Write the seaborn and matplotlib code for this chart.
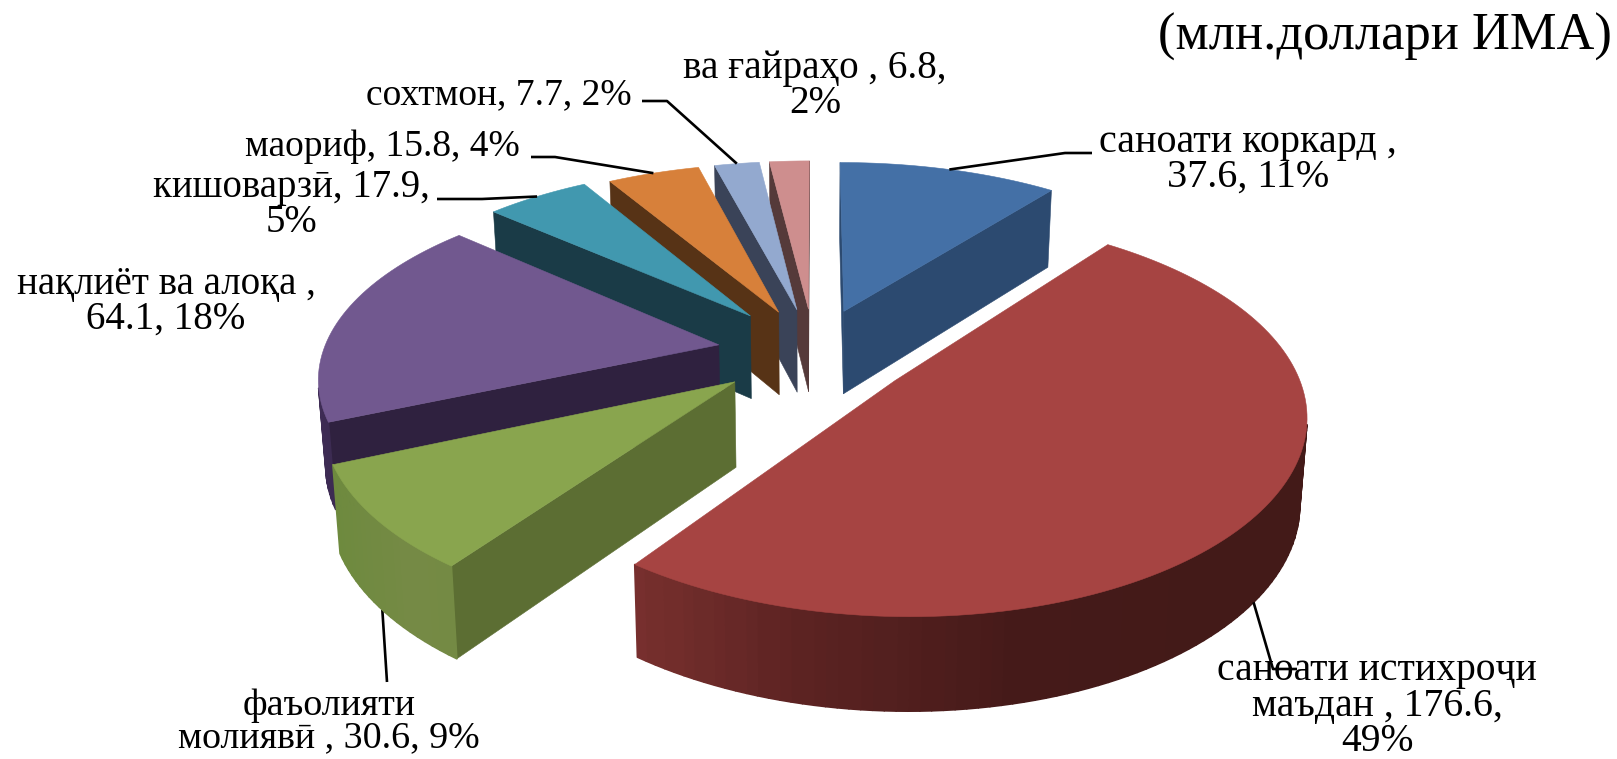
import numpy as np
import matplotlib
matplotlib.use("Agg")
import matplotlib.pyplot as plt
from matplotlib.patches import Polygon
import seaborn as sns

categories = ["саноати коркард", "саноати истихроҷи маъдан", "фаъолияти молиявӣ", "нақлиёт ва алоқа",
              "кишоварзӣ", "маориф", "сохтмон", "ва ғайраҳо"]
values = [37.6, 176.6, 30.6, 64.1, 17.9, 15.8, 7.7, 6.8]
label_texts = ["саноати коркард ,\n37.6, 11%", "саноати истихроҷи\nмаъдан , 176.6,\n49%",
               "фаъолияти\nмолиявӣ , 30.6, 9%", "нақлиёт ва алоқа ,\n64.1, 18%",
               "кишоварзӣ, 17.9,\n5%", "маориф, 15.8, 4%", "сохтмон, 7.7, 2%", "ва ғайраҳо , 6.8,\n2%"]
unit_text = "(млн.доллари ИМА)"

top_colors = ["#4470A6", "#A64442", "#89A54E", "#71588F", "#4198AF", "#D7803A", "#93A9CF", "#CE8E8E"]
wall_colors = ["#2C4A70", "#7F3331", "#5C6E33", "#2F213F", "#1A3B47", "#573316", "#3A4358", "#553A3A"]

sns.set_theme(style="white")
plt.rcParams["font.family"] = ["Liberation Serif", "DejaVu Serif"]

W, H = 1617, 759
fig = plt.figure(figsize=(W / 100, H / 100), dpi=100, facecolor="white")
ax = fig.add_axes([0, 0, 1, 1])
ax.set_xlim(0, W)
ax.set_ylim(H, 0)
ax.axis("off")

# camera / projection of the tilted pie
CX, CY, F, DX, G, D = 814, 352, 2612, 6.6, 1116, 6.0
EXPLODE = [0.24, 0.25, 0.25, 0.245, 0.26, 0.24, 0.24, 0.24]


def project(X, Y, lower=False):
    sx = CX + F * X / (DX + Y)
    sy = CY - G * Y / (D + Y)
    if lower:
        sx = CX + (sx - CX) * 0.985
        sy = sy + 893 / (10.6 + Y)
    return np.column_stack([sx, sy])


vals = np.array(values)
edges = np.concatenate([[0], np.cumsum(vals)]) / vals.sum() * 2 * np.pi
mids = (edges[:-1] + edges[1:]) / 2


def ground(i, ang, r=1.0):
    return (r * np.sin(ang) + EXPLODE[i] * np.sin(mids[i]),
            r * np.cos(ang) + EXPLODE[i] * np.cos(mids[i]))


def signed_area(p):
    x, y = p[:, 0], p[:, 1]
    return 0.5 * np.sum(x * np.roll(y, -1) - np.roll(x, -1) * y)


def face(a, b, color, z, lw=0.4):
    """a, b: ground points of one top edge, wall hangs below; back-facing walls culled."""
    t = project(np.array([a[0], b[0]]), np.array([a[1], b[1]]))
    l = project(np.array([a[0], b[0]]), np.array([a[1], b[1]]), lower=True)
    poly = np.vstack([t, l[::-1]])
    if signed_area(poly) > 0:
        return
    ax.add_patch(Polygon(poly, closed=True, facecolor=color, edgecolor=color, lw=lw,
                         joinstyle="round", zorder=z))


order = np.argsort([-ground(i, mids[i], 0)[1] for i in range(len(vals))])
rim_palettes = {1: sns.blend_palette(["#431A18", "#451A19", "#5C2322", "#7F3331"], 40),
                2: sns.blend_palette(["#6B8A3C", "#758A45", "#738A42"], 40),
                3: sns.blend_palette(["#3E2C55", "#2F213F"], 40)}

for rank, i in enumerate(order):
    z = 3 + rank
    n = max(int((edges[i + 1] - edges[i]) * 40), 4)
    angs = np.linspace(edges[i], edges[i + 1], n + 1)
    apex = ground(i, 0, 0)
    rim = [ground(i, a) for a in angs]
    # radial walls
    face(apex, rim[0], wall_colors[i], z)
    face(rim[-1], apex, wall_colors[i], z)
    # outer rim with shading across the screen
    pal = rim_palettes.get(i, [wall_colors[i]] * 40)
    for k in range(n):
        m = (angs[k] + angs[k + 1]) / 2
        if i == 1:
            u = np.clip((0.7 - np.sin(m)) / 1.4, 0, 0.999)
        else:
            u = np.clip((np.sin(m) + 1) / 0.6, 0, 0.999)
        face(rim[k], rim[k + 1], pal[int(u * 40)], z, lw=1.2)
    # top
    gx = np.array([apex[0]] + [p[0] for p in rim])
    gy = np.array([apex[1]] + [p[1] for p in rim])
    ax.add_patch(Polygon(project(gx, gy), closed=True, facecolor=top_colors[i],
                         edgecolor=top_colors[i], lw=0.4, zorder=z + 0.5))

# leader lines: start on the slice rim, run to the label
LEADERS = {0: (False, [(1065, 153), (1092, 153)]),
           1: (True, [(1273, 669), (1297, 669)]),
           2: (True, [(387, 682)]),
           4: (False, [(482, 199), (437, 199)]),
           5: (False, [(555, 157), (531, 157)]),
           6: (False, [(667, 101), (642, 101)])}
for i, (lower, pts) in LEADERS.items():
    gxy = ground(i, mids[i])
    start = project(np.array([gxy[0]]), np.array([gxy[1]]), lower=lower)[0]
    xs = [start[0]] + [p[0] for p in pts]
    ys = [start[1]] + [p[1] for p in pts]
    ax.plot(xs, ys, color="black", lw=1.9, solid_capstyle="butt", zorder=2 if i == 2 else 20)

# text
LABEL_FS = [28.9, 28.5, 27.4, 28.1, 27.9, 27.0, 27.0, 28.2]
LABEL_POS = [(1248, 160), (1377, 706), (329, 722), (166, 302), (291, 205), (382, 147), (499, 95), (815, 86)]
for txt, (x, y), fs in zip(label_texts, LABEL_POS, LABEL_FS):
    ax.text(x, y, txt, ha="center", va="center", fontsize=fs, color="black",
            linespacing=0.93, multialignment="center", zorder=30)
ax.text(1385, 37, unit_text, ha="center", va="center", fontsize=37.8, color="black", zorder=30)

fig.savefig("out.png", dpi=100, facecolor="white")
